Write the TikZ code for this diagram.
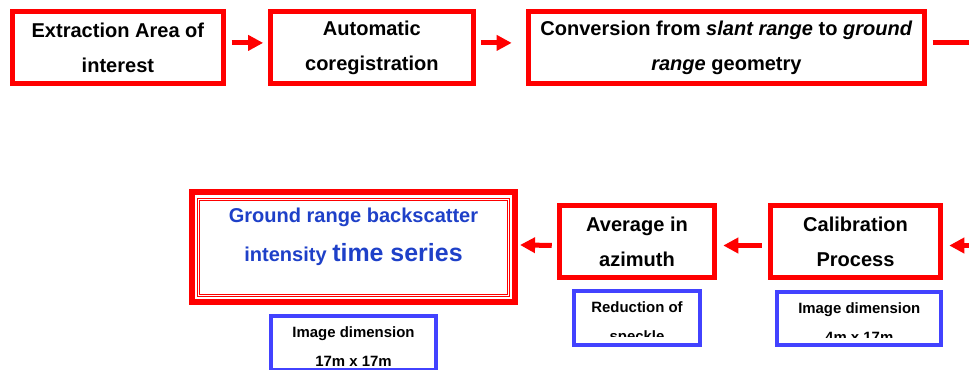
\documentclass[tikz,border=0pt]{standalone}
\usepackage{fontspec}
\setmainfont{Liberation Sans}
\usetikzlibrary{arrows.meta,positioning}
\definecolor{boxred}{HTML}{FF0000}
\definecolor{boxblue}{HTML}{4242FF}
\definecolor{txtblue}{HTML}{1E40C8}
\tikzset{
  stepbox/.style={rectangle, draw=boxred, line width=0.1cm, fill=white, align=center, inner sep=0pt,
                  font=\fontsize{11.4}{19.9}\selectfont\bfseries, minimum height=1.43cm},
  resbox/.style={rectangle, draw=boxred, line width=0.02cm, double=white, double distance=0.02cm,
                 minimum width=6.19cm, minimum height=1.91cm},
  resframe/.style={draw=boxred, line width=0.12cm},
  restext/.style={align=center, inner sep=0pt, text=txtblue,
                  font=\fontsize{11.4}{22.2}\selectfont\bfseries},
  infobox/.style={rectangle, draw=boxblue, line width=0.08cm, fill=white, minimum height=1.07cm},
  infotext/.style={align=center, inner sep=0pt, font=\fontsize{8.5}{16.5}\selectfont\bfseries},
  arr/.style={-{Triangle[length=0.3cm,width=0.3cm]}, draw=boxred, line width=0.1cm},
}
\begin{document}
\begin{tikzpicture}
  \useasboundingbox (0,0) rectangle (19.38,-7.38);
  % top row
  \node[stepbox, minimum width=4.21cm] (ext) at (2.358,-0.948) {Extraction Area of\\interest};
  \node[stepbox, minimum width=4.05cm, right=0.85cm of ext] (auto) {Automatic\\coregistration};
  \node[stepbox, minimum width=7.93cm, right=1.0cm of auto] (conv)
    {Conversion from \textit{slant range} to \textit{ground}\\\textit{range} geometry};
  \draw[arr, shorten <=0.12cm, shorten >=0.1cm] ([yshift=0.09cm]ext.east) -- ([yshift=0.09cm]auto.west);
  \draw[arr, shorten <=0.106cm, shorten >=0.28cm] ([yshift=0.09cm]auto.east) -- ([yshift=0.09cm]conv.west);

  % bottom row
  \node[stepbox, minimum width=3.41cm] (calib) at (17.11,-4.83) {Calibration\\Process};
  \node[stepbox, minimum width=3.09cm, left=1.02cm of calib] (avg) {Average in\\azimuth};
  \node[resbox, left=0.97cm of avg, yshift=-0.116cm] (res) {};
  \draw[resframe] ([shift={(-0.134cm,0.134cm)}]res.north west) rectangle ([shift={(0.134cm,-0.134cm)}]res.south east);
  \node[restext] (restxt) at ([yshift=0.216cm]res.center)
    {Ground range backscatter\\intensity {\fontsize{14.2}{22.2}\selectfont time series}};
  \draw[arr, shorten <=0.11cm, shorten >=0.12cm] ([yshift=0.09cm]conv.east) -- ++(1.5cm,0) |- ([yshift=-0.08cm]calib.east);
  \draw[arr, shorten <=0.12cm, shorten >=0.13cm] ([yshift=-0.08cm]calib.west) -- ([yshift=-0.08cm]avg.west -| avg.east);
  \draw[arr, shorten <=0.11cm, shorten >=0.226cm] ([yshift=-0.08cm]avg.west) -- ([yshift=0.05cm]res.east);

  % info boxes
  \node[infobox, minimum width=2.52cm, below=0.19cm of avg] (speck) {};
  \begin{scope}
    \clip (speck.north west) rectangle ([yshift=-0.95cm]speck.north east);
    \node[infotext, below=0.25cm of speck.north] (specktxt) {Reduction of\\speckle};
  \end{scope}
  \node[infobox, minimum width=3.28cm, below=0.2cm of calib.south east, anchor=north east] (dimcal) {};
  \begin{scope}
    \clip (dimcal.north west) rectangle ([yshift=-0.95cm]dimcal.north east);
    \node[infotext, below=0.25cm of dimcal.north] (dimcaltxt) {Image dimension\\4m x 17m};
  \end{scope}
  \node[infobox, minimum width=3.3cm, below=0.37cm of res] (dimres) {};
  \begin{scope}
    \clip (dimres.north west) rectangle ([yshift=-1.02cm]dimres.north east);
    \node[infotext, below=0.25cm of dimres.north] (dimrestxt) {Image dimension\\17m x 17m};
  \end{scope}
\end{tikzpicture}
\end{document}
